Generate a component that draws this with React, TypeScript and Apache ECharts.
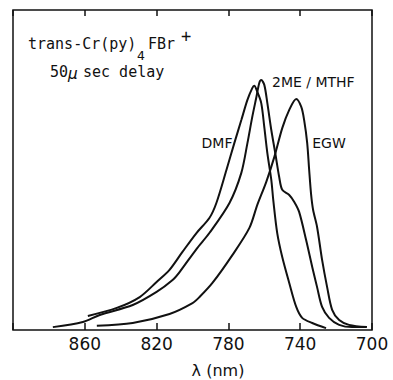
import React, { useEffect, useRef } from "react";
import * as echarts from "echarts";

// Wavelength (nm) and relative emission intensity
const dmfWavelength = [858.3, 842.2, 829.4, 820.0, 812.8, 805.6, 797.8, 790.6, 786.7, 781.1, 776.7, 772.8, 769.4, 766.7, 765.6, 763.9, 761.7, 760.0, 758.3, 756.1, 755.0, 752.8, 750.0, 746.1, 742.2, 738.9, 733.3, 725.6];
const dmfIntensity = [4.4, 6.9, 10.3, 15.0, 18.8, 24.4, 30.3, 35.0, 39.7, 50.0, 58.4, 65.6, 71.9, 75.6, 76.3, 74.4, 70.9, 63.4, 55.3, 46.9, 40.6, 30.3, 22.8, 14.7, 7.2, 3.8, 2.2, 0.6];

const meWavelength = [877.8, 861.1, 851.7, 833.3, 820.0, 811.1, 807.2, 797.8, 790.6, 779.4, 772.8, 769.4, 766.7, 764.4, 762.8, 761.7, 760.0, 758.3, 756.1, 753.9, 751.7, 750.0, 746.1, 743.3, 740.6, 736.7, 733.3, 730.6, 727.8, 723.9, 718.3, 711.1, 703.3];
const meIntensity = [0.9, 2.5, 4.7, 7.8, 11.9, 15.6, 18.1, 25.3, 30.3, 39.7, 49.1, 58.4, 66.6, 72.8, 77.2, 78.1, 76.6, 70.9, 62.5, 55.3, 47.8, 43.8, 42.2, 40.0, 36.9, 28.1, 19.7, 13.4, 7.2, 3.8, 1.6, 0.9, 0.9];

const egwWavelength = [853.3, 833.3, 812.8, 800.0, 796.1, 788.9, 777.8, 768.3, 763.9, 758.9, 754.4, 750.0, 746.1, 742.2, 739.4, 737.8, 736.1, 735.0, 733.9, 732.8, 730.6, 727.8, 725.0, 722.2, 718.3, 712.8, 702.8];
const egwIntensity = [1.3, 2.2, 5.0, 8.4, 10.3, 14.7, 23.4, 31.9, 39.1, 46.3, 54.1, 63.1, 68.8, 72.2, 69.7, 65.6, 58.4, 50.0, 42.2, 37.5, 32.2, 21.9, 13.4, 6.3, 3.1, 1.6, 0.9];

const xTickLabels = ["860", "820", "780", "740", "700"];

const pairs = (xs: number[], ys: number[]) => xs.map((x, i) => [x, ys[i]]);

export default function App() {
  const ref = useRef<HTMLDivElement>(null);
  useEffect(() => {
    if (!ref.current) return;
    const chart = echarts.init(ref.current, null, { renderer: "svg" });
    const lineStyle = { color: "#111", width: 2 };
    const mono = "DejaVu Sans Mono";
    const sans = "DejaVu Sans";
    const baseX = {
      type: "value" as const,
      min: 700,
      max: 900,
      interval: 40,
      inverse: true,
      splitLine: { show: false },
      axisLine: { show: false },
    };
    chart.setOption({
      animation: false,
      backgroundColor: "#fff",
      grid: {
        left: 13,
        right: 21,
        top: 10,
        bottom: 50,
        show: true,
        borderColor: "#111",
        borderWidth: 1.5,
        backgroundColor: "transparent",
      },
      xAxis: [
        {
          ...baseX,
          position: "bottom",
          axisTick: { inside: true, length: 7, lineStyle: { color: "#111", width: 1.5 } },
          axisLabel: {
            margin: 5,
            color: "#111",
            fontFamily: sans,
            fontSize: 17,
            formatter: (v: number) => (xTickLabels.includes(String(v)) ? String(v) : ""),
          },
        },
        {
          ...baseX,
          position: "top",
          axisTick: { inside: true, length: 6, lineStyle: { color: "#111", width: 1.5 } },
          axisLabel: { show: false },
        },
      ],
      yAxis: {
        type: "value",
        min: 0,
        max: 100,
        axisLine: { show: false },
        axisTick: { show: false },
        axisLabel: { show: false },
        splitLine: { show: false },
      },
      series: [
        { name: "DMF", type: "line", data: pairs(dmfWavelength, dmfIntensity), smooth: 0.3, showSymbol: false, lineStyle },
        { name: "2ME/MTHF", type: "line", data: pairs(meWavelength, meIntensity), smooth: 0.3, showSymbol: false, lineStyle },
        { name: "EGW", type: "line", data: pairs(egwWavelength, egwIntensity), smooth: 0.3, showSymbol: false, lineStyle },
      ],
      graphic: [
        { type: "text", style: { text: "trans-Cr(py)", x: 28, y: 44, font: `15px "${mono}"`, fill: "#111", verticalAlign: "middle" } },
        { type: "text", style: { text: "4", x: 137, y: 55, font: `13px "${mono}"`, fill: "#111", verticalAlign: "middle" } },
        { type: "text", style: { text: "FBr", x: 148, y: 44, font: `15px "${mono}"`, fill: "#111", verticalAlign: "middle" } },
        { type: "text", style: { text: "+", x: 181, y: 36, font: `17px "${mono}"`, fill: "#111", verticalAlign: "middle" } },
        { type: "text", style: { text: "50", x: 50, y: 72, font: `15px "${mono}"`, fill: "#111", verticalAlign: "middle" } },
        { type: "text", style: { text: "μ", x: 68, y: 73, font: `italic 16px "${mono}"`, fill: "#111", verticalAlign: "middle" } },
        { type: "text", style: { text: "sec delay", x: 83, y: 72, font: `15px "${mono}"`, fill: "#111", verticalAlign: "middle" } },
        { type: "text", style: { text: "DMF", x: 217, y: 143, font: `14px "${sans}"`, fill: "#111", align: "center", verticalAlign: "middle" } },
        { type: "text", style: { text: "2ME / MTHF", x: 272, y: 82, font: `14px "${sans}"`, fill: "#111", verticalAlign: "middle" } },
        { type: "text", style: { text: "EGW", x: 329, y: 143, font: `14px "${sans}"`, fill: "#111", align: "center", verticalAlign: "middle" } },
        { type: "text", style: { text: "λ (nm)", x: 218, y: 370, font: `16px "${sans}"`, fill: "#111", align: "center", verticalAlign: "middle" } },
      ],
    });
    return () => chart.dispose();
  }, []);
  return (
    <div
      ref={ref}
      style={{ position: "absolute", left: 0, top: 0, width: 393, height: 380, background: "#fff" }}
    />
  );
}
